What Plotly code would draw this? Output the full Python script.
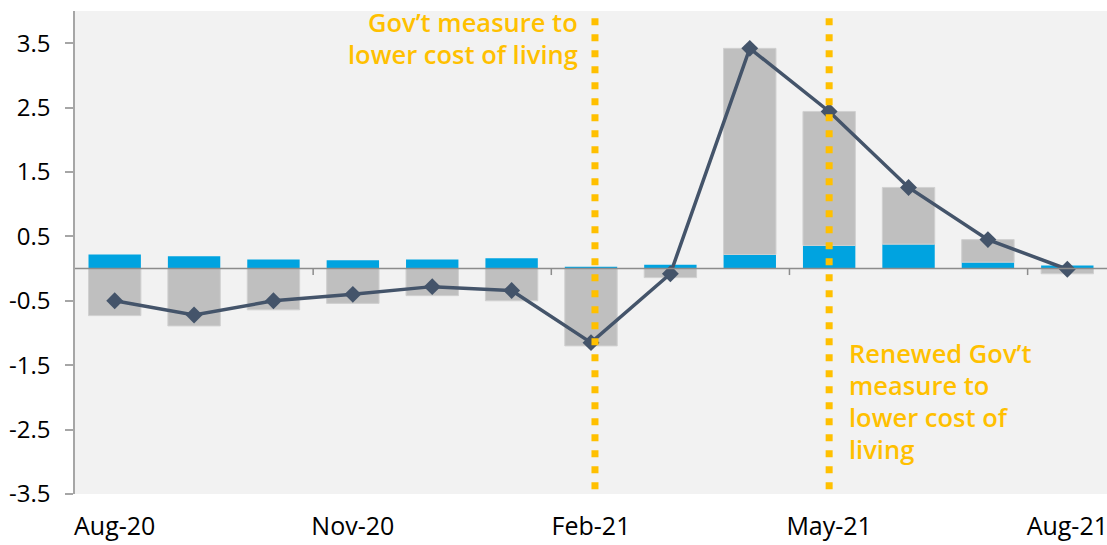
import plotly.graph_objects as go

months = ["Aug-20", "Sep-20", "Oct-20", "Nov-20", "Dec-20", "Jan-21", "Feb-21",
          "Mar-21", "Apr-21", "May-21", "Jun-21", "Jul-21", "Aug-21"]
blue_vals = [0.22, 0.19, 0.14, 0.13, 0.14, 0.16, 0.03, 0.06, 0.22, 0.36, 0.38, 0.10, 0.05]
gray_vals = [-0.73, -0.89, -0.64, -0.54, -0.42, -0.50, -1.20, -0.14, 3.20, 2.08, 0.88, 0.35, -0.08]
line_vals = [-0.50, -0.72, -0.50, -0.40, -0.28, -0.34, -1.15, -0.08, 3.42, 2.44, 1.26, 0.45, -0.01]
tick_labels = ["Aug-20", "Nov-20", "Feb-21", "May-21", "Aug-21"]
y_ticks = [-3.5, -2.5, -1.5, -0.5, 0.5, 1.5, 2.5, 3.5]
event_x = [6.05, 9]
minor_ticks_x = [2.5, 5.5, 8.5, 11.5]
note1_lines = ["Gov’t measure to", "lower cost of living"]
note2_lines = ["Renewed Gov’t", "measure to", "lower cost of", "living"]

BLUE = "#00A3E0"
GRAY = "#BFBFBF"
LINE = "#44546A"
GOLD = "#FFC000"
FONT = "Open Sans"

fig = go.Figure()
fig.add_trace(go.Bar(x=months, y=blue_vals, marker=dict(color=BLUE, line=dict(width=0)),
                     width=0.66, showlegend=False))
fig.add_trace(go.Bar(x=months, y=gray_vals, marker=dict(color=GRAY, line=dict(color="#D0D0D0", width=1)),
                     width=0.66, showlegend=False))
fig.add_trace(go.Scatter(x=months, y=line_vals, mode="lines+markers",
                         line=dict(color=LINE, width=3.5),
                         marker=dict(symbol="diamond", size=13, color=LINE),
                         showlegend=False))

shapes = []
shapes.append(dict(type="line", xref="paper", yref="y", x0=0, x1=1, y0=0, y1=0,
                   line=dict(color="#8C8C8C", width=1.5), layer="above"))
for mx in minor_ticks_x:
    shapes.append(dict(type="line", xref="x", yref="y", x0=mx, x1=mx, y0=0, y1=-0.1,
                       line=dict(color="#8C8C8C", width=1.5), layer="above"))
for ex in event_x:
    shapes.append(dict(type="line", xref="x", yref="paper", x0=ex, x1=ex, y0=0.01, y1=0.985,
                       line=dict(color=GOLD, width=7, dash="7px,9px"), layer="above"))

annotations = []
note1_top, note2_top, step = 3.83, -1.31, 0.497
for i, t in enumerate(note1_lines):
    annotations.append(dict(x=5.86, y=note1_top - i * step, xref="x", yref="y",
                            xanchor="right", yanchor="middle", text=t, showarrow=False,
                            font=dict(color=GOLD, size=25.5, family=FONT, weight=600)))
for i, t in enumerate(note2_lines):
    annotations.append(dict(x=9.22, y=note2_top - i * step, xref="x", yref="y",
                            xanchor="left", yanchor="middle", text=t, showarrow=False,
                            font=dict(color=GOLD, size=25.5, family=FONT, weight=600)))

fig.update_layout(
    width=1107, height=545,
    margin=dict(l=75, r=0, t=11, b=51),
    paper_bgcolor="white", plot_bgcolor="#F2F2F2",
    barmode="relative",
    font=dict(family=FONT, size=24, color="black"),
    shapes=shapes,
    annotations=annotations,
    xaxis=dict(type="category", range=[-0.5, 12.5], tickmode="array",
               tickvals=tick_labels, ticktext=tick_labels, showgrid=False,
               showline=False, zeroline=False, ticks="", automargin=False,
               tickfont=dict(size=25), ticklabelstandoff=15),
    yaxis=dict(range=[-3.5, 4.0], tickmode="array", tickvals=y_ticks,
               ticktext=[f"{v:g}" for v in y_ticks], showgrid=False, zeroline=False,
               showline=True, linecolor="#A6A6A6", linewidth=1.5, automargin=False,
               ticks="outside", ticklen=8, tickcolor="#A6A6A6", tickwidth=1.5,
               tickfont=dict(size=24), ticklabelstandoff=10),
)

fig.write_html("out.html", config={"displayModeBar": False},
               post_script="document.body.style.margin='0';document.body.style.overflow='hidden';")
